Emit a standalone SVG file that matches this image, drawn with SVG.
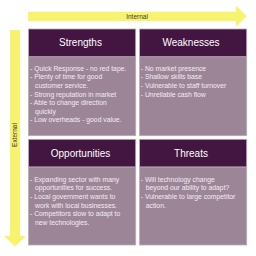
<svg xmlns="http://www.w3.org/2000/svg" width="256" height="256" viewBox="0 0 256 256">
<style>
.hd{fill:#431541;stroke:#b9adb7;stroke-width:0.8}
.bd{fill:#9d8598;stroke:#b9adb7;stroke-width:0.8}
.ht{font-family:"Liberation Sans",Arial,sans-serif;font-size:10px;fill:#ffffff;text-anchor:middle}
.bt{font-family:"Liberation Sans",Arial,sans-serif;font-size:6.8px;fill:#f2ecf1}
.ax{font-family:"Liberation Sans",Arial,sans-serif;font-size:6.5px;fill:#3a3a3a;text-anchor:middle}
.ar{fill:#f8f36e}
</style>
<rect width="256" height="256" fill="#ffffff"/>
<g id="connectors">
<polygon class="ar" points="28,11.7 236,11.7 236,5.6 246.7,16.3 236,26.7 236,21 28,21"/>
<polygon class="ar" points="10,30 20,30 20,236 26,236 15,246.5 4,236 10,236"/>
</g>
<text class="ax" x="137" y="18.7">Internal</text>
<text class="ax" transform="translate(17.4,135) rotate(-90)">External</text>
<g id="strengths">
<rect class="bd" x="28.5" y="56.7" width="107.2" height="79"/>
<rect class="hd" x="28.5" y="29" width="107.2" height="27.7"/>
<text class="ht" x="80.5" y="46">Strengths</text>
<text class="bt"><tspan x="30" y="70.7">- Quick Response - no red tape.</tspan><tspan x="30" y="79.3">- Plenty of time for good</tspan><tspan x="35" y="88">customer service.</tspan><tspan x="30" y="96.6">- Strong reputation in market</tspan><tspan x="30" y="105.2">- Able to change direction</tspan><tspan x="35" y="113.8">quickly</tspan><tspan x="30" y="122.4">- Low overheads - good value.</tspan></text>
</g>
<g id="weaknesses">
<rect class="bd" x="139.6" y="56.7" width="107.1" height="79"/>
<rect class="hd" x="139.6" y="29" width="107.1" height="27.7"/>
<text class="ht" x="191" y="46">Weaknesses</text>
<text class="bt"><tspan x="140.8" y="70.7">- No market presence</tspan><tspan x="140.8" y="79.3">- Shallow skills base</tspan><tspan x="140.8" y="88">- Vulnerable to staff turnover</tspan><tspan x="140.8" y="96.6">- Unreliable cash flow</tspan></text>
</g>
<g id="opportunities">
<rect class="bd" x="28.5" y="166.9" width="107.2" height="78.1"/>
<rect class="hd" x="28.5" y="139.3" width="107.2" height="27.6"/>
<text class="ht" x="80.5" y="156.6">Opportunities</text>
<text class="bt"><tspan x="30" y="181.7">- Expanding sector with many</tspan><tspan x="35" y="190.3">opportunities for success.</tspan><tspan x="30" y="198.9">- Local government wants to</tspan><tspan x="35" y="207.5">work with local businesses.</tspan><tspan x="30" y="216.1">- Competitors slow to adapt to</tspan><tspan x="35" y="224.7">new technologies.</tspan></text>
</g>
<g id="threats">
<rect class="bd" x="139.6" y="166.9" width="107.1" height="78.1"/>
<rect class="hd" x="139.6" y="139.3" width="107.1" height="27.6"/>
<text class="ht" x="191" y="156.6">Threats</text>
<text class="bt"><tspan x="140.8" y="181.7">- Will technology change</tspan><tspan x="145.8" y="190.3">beyond our ability to adapt?</tspan><tspan x="140.8" y="198.9">- Vulnerable to large competitor</tspan><tspan x="145.8" y="207.5">action.</tspan></text>
</g>
</svg>
